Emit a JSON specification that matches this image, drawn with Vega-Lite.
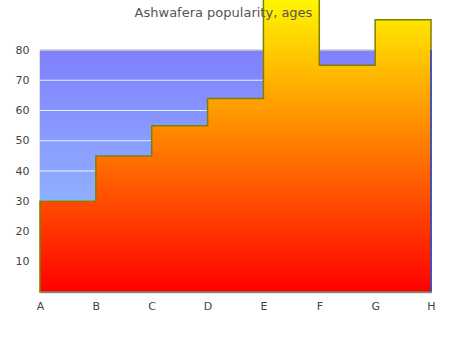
{
  "$schema": "https://vega.github.io/schema/vega-lite/v6.json",
  "width": 391,
  "height": 242,
  "autosize": {"type": "none"},
  "padding": {"left": 40, "top": 50, "right": 19, "bottom": 58},
  "background": "white",
  "title": {"text": "Ashwafera popularity, ages", "fontSize": 13, "font": "DejaVu Sans", "fontWeight": "normal", "color": "#555555", "offset": -33, "anchor": "middle", "dx": -12, "zindex": 1},
  "config": {
    "view": {"stroke": null},
    "axis": {"labelOverlap": false, "labelColor": "#444444", "labelFont": "DejaVu Sans", "labelFontSize": 11, "ticks": false, "domainColor": "#888888", "domainWidth": 1.5, "title": null},
    "axisY": {"labelOverlap": false, "values": [10,20,30,40,50,60,70,80], "grid": false, "labelPadding": 11, "labelBound": false, "labelFlush": false},
    "axisX": {"labelOverlap": false, "labelAngle": 0, "labelPadding": 8}
  },
  "datasets": {
    "ages": [
      {"cat": "A", "value": 30},
      {"cat": "B", "value": 45},
      {"cat": "C", "value": 55},
      {"cat": "D", "value": 64},
      {"cat": "E", "value": 100},
      {"cat": "F", "value": 75},
      {"cat": "G", "value": 90},
      {"cat": "H", "value": 72}
    ],
    "band": [{"from": "A", "to": "H", "low": 0, "high": 80}],
    "grid": [
      {"from": "A", "to": "H", "level": 10},
      {"from": "A", "to": "H", "level": 20},
      {"from": "A", "to": "H", "level": 30},
      {"from": "A", "to": "H", "level": 40},
      {"from": "A", "to": "H", "level": 50},
      {"from": "A", "to": "H", "level": 60},
      {"from": "A", "to": "H", "level": 70}
    ],
    "top": [{"from": "A", "to": "H", "level": 80}],
    "edge": [{"at": "H", "low": 0, "high": 80}]
  },
  "layer": [
    {
      "data": {"name": "band"},
      "mark": {"type": "rect", "fill": {"gradient": "linear", "x1": 0, "y1": 1, "x2": 0, "y2": 0, "stops": [{"offset": 0, "color": "#99ccff"}, {"offset": 1, "color": "#8080ff"}]}},
      "encoding": {
        "x": {"field": "from", "type": "ordinal", "scale": {"type": "point", "domain": ["A","B","C","D","E","F","G","H"], "padding": 0}},
        "x2": {"field": "to"},
        "y": {"field": "low", "type": "quantitative", "scale": {"domain": [0, 80], "nice": false, "zero": true}, "axis": {"values": [10,20,30,40,50,60,70,80], "labelOverlap": false}},
        "y2": {"field": "high"}
      }
    },
    {
      "data": {"name": "grid"},
      "mark": {"type": "rule", "color": "#e8f0ff", "strokeWidth": 1},
      "encoding": {
        "x": {"field": "from", "type": "ordinal"},
        "x2": {"field": "to"},
        "y": {"field": "level", "type": "quantitative", "axis": {"values": [10,20,30,40,50,60,70,80], "labelOverlap": false}}
      }
    },
    {
      "data": {"name": "top"},
      "mark": {"type": "rule", "color": "#cccccc", "strokeWidth": 1.5},
      "encoding": {
        "x": {"field": "from", "type": "ordinal"},
        "x2": {"field": "to"},
        "y": {"field": "level", "type": "quantitative", "axis": {"values": [10,20,30,40,50,60,70,80], "labelOverlap": false}}
      }
    },
    {
      "data": {"name": "ages"},
      "mark": {"type": "area", "interpolate": "step-after", "clip": false, "stroke": "#808000", "strokeWidth": 1.5, "fill": {"gradient": "linear", "x1": 0, "y1": 1, "x2": 0, "y2": 0, "stops": [{"offset": 0, "color": "#ff0000"}, {"offset": 1, "color": "#ffff00"}]}},
      "encoding": {
        "x": {"field": "cat", "type": "ordinal"},
        "y": {"field": "value", "type": "quantitative", "axis": {"values": [10,20,30,40,50,60,70,80], "labelOverlap": false}}
      }
    },
    {
      "data": {"name": "edge"},
      "mark": {"type": "rule", "color": "#2a3fe0", "strokeWidth": 1.5},
      "encoding": {
        "x": {"field": "at", "type": "ordinal"},
        "y": {"field": "low", "type": "quantitative", "axis": {"values": [10,20,30,40,50,60,70,80], "labelOverlap": false}},
        "y2": {"field": "high"}
      }
    }
  ]
}
